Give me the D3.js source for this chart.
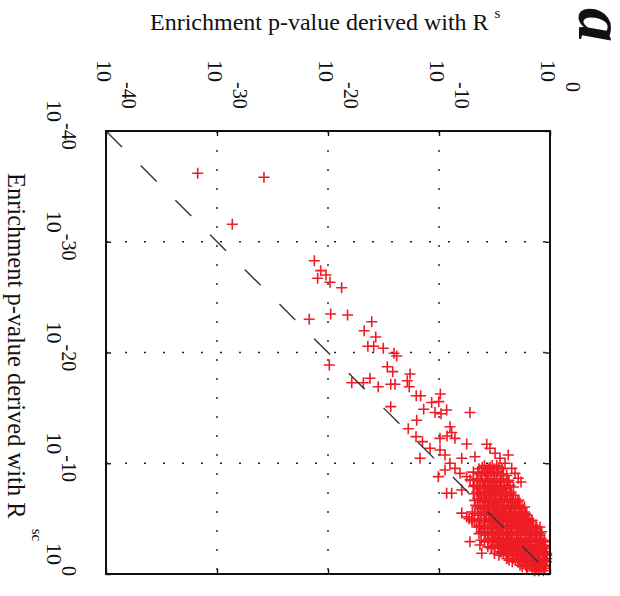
<!DOCTYPE html>
<html>
<head>
<meta charset="utf-8">
<script src="https://cdn.jsdelivr.net/npm/d3@7/dist/d3.min.js"></script>
<style>
  body { margin: 0; background: #fff; }
  text { font-family: "Liberation Serif", "Times New Roman", serif; fill: #111; }
</style>
</head>
<body>
<svg id="chart" width="620" height="596"></svg>
<script>
// Tick exponents shared by both axes (p-values 10^-40 ... 10^0)
const tickExponents = [-40, -30, -20, -10, 0];
const gridExponents = [-30, -20, -10];

// Axis titles
const topTitle = "Enrichment p-value derived with R";
const topTitleSup = "s";
const sideTitle = "Enrichment p-value derived with R";
const sideTitleSup = "sc";
const panelLetter = "a";

// log10 p-values, each pair is [R^s, R^sc]
const sparsePoints = [
  [-31.74,-36.18],[-25.77,-35.82],[-28.62,-31.58],
  [-21.23,-28.29],[-20.66,-27.39],[-20.18,-27.0],[-20.93,-26.7],[-19.82,-26.34],[-18.77,-25.85],
  [-19.76,-23.48],[-18.24,-23.39],[-21.69,-23.0],[-16.06,-22.78],[-16.74,-21.97],[-15.7,-21.4],
  [-16.41,-20.56],[-15.88,-20.56],[-15.02,-20.38],[-14.05,-19.93],[-13.81,-19.68],
  [-19.88,-18.87],[-14.66,-18.72],[-14.17,-18.27],[-12.61,-18.06],[-12.86,-17.45],[-12.68,-16.91],
  [-17.86,-17.27],[-16.82,-17.27],[-16.22,-17.67],[-15.47,-16.91],[-14.35,-17.13],[-13.96,-17.13],
  [-14.35,-15.11],[-12.05,-16.1],[-11.65,-16.1],[-9.88,-16.25],[-10.66,-15.49],[-10.02,-15.56],
  [-11.38,-14.88],[-10.36,-14.58],[-9.82,-14.47],[-9.31,-14.81],[-7.21,-14.58],
  [-12.01,-13.88],[-12.77,-13.12],[-9.01,-13.3],[-8.86,-12.78],[-9.28,-12.46],[-8.56,-12.25],
  [-9.91,-12.25],[-12.07,-12.4],[-11.49,-11.95],[-7.5,-11.74],
  [-10.81,-11.35],[-9.91,-11.2],[-9.46,-10.74],[-11.71,-10.45],[-7.95,-10.45],[-6.76,-10.59],
  [-10.06,-8.79],[-9.01,-10.0],[-8.56,-9.54],[-9.46,-9.39],[-8.11,-9.09],[-7.5,-8.79],[-5.7,-9.39],
  [-7.2,-8.5],[-6.9,-7.9],
  [-9.31,-7.29],[-8.86,-7.29],[-7.95,-7.58],[-7.95,-5.5],[-7.5,-5.17],[-7.05,-4.88],
  [-7.21,-2.92],[-6.31,-2.62],[-6.15,-1.87],[-5.25,-2.32],[-4.5,-2.01],[-6.31,-4.27],
  [-0.9,-4.24],[-0.75,-3.82],[-0.63,-1.9],[-0.45,-1.72],[-1.35,-0.36]
];

// A thin run of terms lying off the main cloud
const streakPoints = [
  [-5.7,-11.72],[-5.41,-11.35],[-4.95,-10.9],[-4.5,-10.45],[-3.76,-10.74],
  [-4.05,-10.0],[-3.45,-9.54],[-3.15,-9.09],[-2.86,-8.64],[-2.61,-8.31]
];

// Main cloud, grouped by R^sc exponent: [R^sc, [R^s exponents]]
const clusterRows = [
  [-9.8, [-5.9,-5.2,-4.8]],
  [-9.65, [-6.1,-5.4,-4.6]],
  [-9.5, [-6.4,-5.5,-5.0,-4.3]],
  [-9.2, [-6.9,-5.9,-5.3,-4.7]],
  [-9.05, [-6.5,-5.7,-5.0,-4.2]],
  [-8.9, [-6.2,-5.6,-5.1,-4.4,-3.9]],
  [-8.6, [-6.6,-5.8,-5.3,-4.8,-4.2]],
  [-8.45, [-6.9,-6.3,-5.6,-5.0,-4.4,-3.7]],
  [-8.3, [-6.1,-5.5,-5.0,-4.5,-3.8]],
  [-8.0, [-6.8,-6.0,-5.6,-5.2,-4.7,-4.1,-3.6]],
  [-7.85, [-6.5,-5.9,-5.4,-5.0,-4.5,-3.9,-3.3]],
  [-7.7, [-6.3,-5.8,-5.3,-4.9,-4.4,-3.9]],
  [-7.4, [-6.6,-6.0,-5.5,-5.1,-4.6,-4.2,-3.5]],
  [-7.25, [-6.9,-6.4,-5.9,-5.4,-5.0,-4.5,-4.0,-3.6]],
  [-7.1, [-6.2,-5.7,-5.3,-4.8,-4.3,-3.8,-3.3]],
  [-6.8, [-6.5,-5.9,-5.5,-5.0,-4.6,-4.1,-3.6,-3.1]],
  [-6.65, [-6.8,-6.3,-5.8,-5.3,-4.9,-4.4,-3.9,-3.4,-2.8]],
  [-6.5, [-6.1,-5.6,-5.2,-4.8,-4.4,-3.9,-3.4,-2.9]],
  [-6.2, [-6.7,-5.8,-5.4,-5.0,-4.6,-4.2,-3.7,-3.2,-2.7]],
  [-6.05, [-6.5,-6.0,-5.5,-5.1,-4.7,-4.2,-3.7,-3.3,-2.8,-2.3]],
  [-5.9, [-6.3,-5.6,-5.2,-4.8,-4.3,-3.9,-3.5,-3.0,-2.5]],
  [-5.6, [-7.0,-6.0,-5.5,-5.0,-4.6,-4.1,-3.7,-3.3,-2.8,-2.3]],
  [-5.45, [-6.8,-6.2,-5.9,-5.4,-4.9,-4.5,-4.0,-3.6,-3.2,-2.7,-2.2]],
  [-5.3, [-6.5,-5.7,-5.2,-4.8,-4.4,-4.0,-3.5,-3.1,-2.6,-2.1]],
  [-5.0, [-7.3,-6.2,-5.5,-5.0,-4.6,-4.2,-3.8,-3.3,-2.9,-2.4,-1.9]],
  [-4.85, [-7.0,-6.4,-5.8,-5.2,-4.7,-4.3,-3.9,-3.4,-3.0,-2.5,-2.0,-1.6]],
  [-4.7, [-6.8,-5.9,-5.3,-4.8,-4.4,-4.0,-3.6,-3.1,-2.7,-2.2,-1.7]],
  [-4.4, [-6.4,-5.6,-5.1,-4.6,-4.2,-3.8,-3.4,-2.9,-2.5,-2.0,-1.5]],
  [-4.25, [-6.6,-6.0,-5.3,-4.8,-4.3,-3.9,-3.5,-3.0,-2.6,-2.1,-1.7,-1.2]],
  [-4.1, [-6.0,-5.4,-4.9,-4.4,-4.0,-3.6,-3.2,-2.8,-2.3,-1.8,-1.3]],
  [-3.8, [-6.2,-5.6,-5.1,-4.7,-4.2,-3.8,-3.4,-3.0,-2.6,-2.1,-1.6,-1.1]],
  [-3.65, [-6.4,-5.9,-5.2,-4.7,-4.3,-3.9,-3.5,-3.0,-2.6,-2.2,-1.8,-1.3,-0.9]],
  [-3.5, [-5.8,-5.3,-4.9,-4.5,-4.0,-3.6,-3.2,-2.8,-2.4,-1.9,-1.4,-0.9]],
  [-3.2, [-5.5,-5.0,-4.6,-4.2,-3.8,-3.4,-3.0,-2.6,-2.2,-1.7,-1.2,-0.8]],
  [-3.05, [-6.2,-5.6,-5.0,-4.6,-4.2,-3.8,-3.4,-3.0,-2.6,-2.2,-1.8,-1.3,-0.9,-0.5]],
  [-2.9, [-5.9,-5.2,-4.8,-4.4,-4.0,-3.6,-3.2,-2.8,-2.4,-2.0,-1.5,-1.0,-0.6]],
  [-2.6, [-5.0,-4.5,-4.1,-3.7,-3.3,-2.9,-2.5,-2.1,-1.7,-1.3,-0.8,-0.5]],
  [-2.45, [-5.6,-5.0,-4.5,-4.1,-3.7,-3.3,-2.9,-2.5,-2.1,-1.7,-1.3,-0.9,-0.5]],
  [-2.3, [-5.3,-4.7,-4.3,-3.9,-3.5,-3.1,-2.7,-2.3,-1.9,-1.5,-1.1,-0.7,-0.4]],
  [-2.0, [-4.4,-4.0,-3.6,-3.2,-2.8,-2.4,-2.0,-1.6,-1.2,-0.9,-0.5]],
  [-1.85, [-5.0,-4.2,-3.8,-3.4,-3.0,-2.6,-2.2,-1.8,-1.4,-1.0,-0.6,-0.3]],
  [-1.7, [-4.6,-3.8,-3.4,-3.0,-2.6,-2.2,-1.8,-1.4,-1.0,-0.6,-0.3]],
  [-1.4, [-3.9,-3.3,-2.9,-2.5,-2.1,-1.7,-1.3,-0.9,-0.6,-0.3]],
  [-1.25, [-3.7,-3.1,-2.7,-2.3,-1.9,-1.5,-1.1,-0.7,-0.4]],
  [-1.1, [-3.4,-2.8,-2.4,-2.0,-1.6,-1.2,-0.9,-0.6,-0.3]],
  [-0.8, [-2.7,-2.2,-1.8,-1.4,-1.0,-0.7,-0.4]],
  [-0.65, [-2.5,-2.0,-1.6,-1.2,-0.8,-0.4]],
  [-0.5, [-2.1,-1.6,-1.2,-0.8,-0.5]],
  [-0.3, [-1.4,-1.0,-0.6]]
];

const svg = d3.select("#chart");
const plot = { left: 106, top: 131, right: 550, bottom: 574 };

const x = d3.scaleLog().domain([1e-40, 1]).range([plot.left, plot.right]);
const y = d3.scaleLog().domain([1e-40, 1]).range([plot.top, plot.bottom]);
const p = e => Math.pow(10, e);

const clusterPoints = clusterRows.flatMap(([sc, sList]) => sList.map(s => [s, sc]));
const allPoints = [...sparsePoints, ...streakPoints, ...clusterPoints];

// Dotted grid
const grid = svg.append("g")
  .attr("stroke", "#222").attr("stroke-width", 1.4)
  .attr("stroke-dasharray", "2,17");
grid.selectAll("line.v").data(gridExponents).join("line")
  .attr("class", "v")
  .attr("x1", e => x(p(e))).attr("x2", e => x(p(e)))
  .attr("y1", plot.top).attr("y2", plot.bottom);
grid.selectAll("line.h").data(gridExponents).join("line")
  .attr("class", "h")
  .attr("y1", e => y(p(e))).attr("y2", e => y(p(e)))
  .attr("x1", plot.left).attr("x2", plot.right);

// Markers
svg.append("g")
  .attr("fill", "none").attr("stroke", "#ee1c25").attr("stroke-width", 1.6)
  .selectAll("path").data(allPoints).join("path")
  .attr("transform", d => `translate(${x(p(d[0]))},${y(p(d[1]))})`)
  .attr("d", "M-5.5,0H5.5M0,-5.5V5.5");

// Identity line
svg.append("line")
  .attr("x1", x(p(-40))).attr("y1", y(p(-40)))
  .attr("x2", x(p(0))).attr("y2", y(p(0)))
  .attr("stroke", "#333").attr("stroke-width", 1.4)
  .attr("stroke-dasharray", "22.5,26.5");

// Tick marks on all four sides
const tickVals = tickExponents.map(p);
const axisStyle = g => g.call(s => s.select(".domain").remove())
  .selectAll("line").attr("stroke", "#111").attr("stroke-width", 1.4);
svg.append("g").attr("transform", `translate(0,${plot.top})`)
  .call(d3.axisTop(x).tickValues(tickVals).tickSize(-5).tickFormat("")).call(axisStyle);
svg.append("g").attr("transform", `translate(0,${plot.bottom})`)
  .call(d3.axisBottom(x).tickValues(tickVals).tickSize(-5).tickFormat("")).call(axisStyle);
svg.append("g").attr("transform", `translate(${plot.left},0)`)
  .call(d3.axisLeft(y).tickValues(tickVals).tickSize(-5).tickFormat("")).call(axisStyle);
svg.append("g").attr("transform", `translate(${plot.right},0)`)
  .call(d3.axisRight(y).tickValues(tickVals).tickSize(-5).tickFormat("")).call(axisStyle);

// Frame
svg.append("rect")
  .attr("x", plot.left).attr("y", plot.top)
  .attr("width", plot.right - plot.left).attr("height", plot.bottom - plot.top)
  .attr("fill", "none").attr("stroke", "#111").attr("stroke-width", 2);

// Tick labels along the top (rotated, base "10" with exponent)
const topLabels = svg.append("g").selectAll("g").data(tickExponents).join("g")
  .attr("transform", e => `translate(${x(p(e)) - 9},60) rotate(90)`);
topLabels.append("text").attr("font-size", 22).text("10");
topLabels.append("text").attr("font-size", 20).attr("x", 22).attr("y", -25)
  .text(e => e === 0 ? "0" : String(e));

// Tick labels along the left side
const leftLabels = svg.append("g").selectAll("g").data(tickExponents).join("g")
  .attr("transform", e => `translate(47,${y(p(e)) - 31}) rotate(90)`);
leftLabels.append("text").attr("font-size", 22).text("10");
leftLabels.append("text").attr("font-size", 20).attr("x", 23).attr("y", -15)
  .text(e => e === 0 ? "0" : String(e));

// Axis titles
const t1 = svg.append("text").attr("x", 150).attr("y", 30).attr("font-size", 24);
t1.append("tspan").text(topTitle);
t1.append("tspan").attr("font-size", 15).attr("dx", 6).attr("dy", -12).text(topTitleSup);

const t2 = svg.append("text").attr("transform", "translate(8,173) rotate(90)").attr("font-size", 24.5);
t2.append("tspan").text(sideTitle);
t2.append("tspan").attr("font-size", 15).attr("dx", 10).attr("dy", -24).text(sideTitleSup);

// Panel letter
svg.append("text").attr("transform", "translate(579,8) rotate(90)")
  .attr("font-size", 68).attr("font-weight", "bold").attr("font-style", "italic")
  .text(panelLetter);
</script>
</body>
</html>
